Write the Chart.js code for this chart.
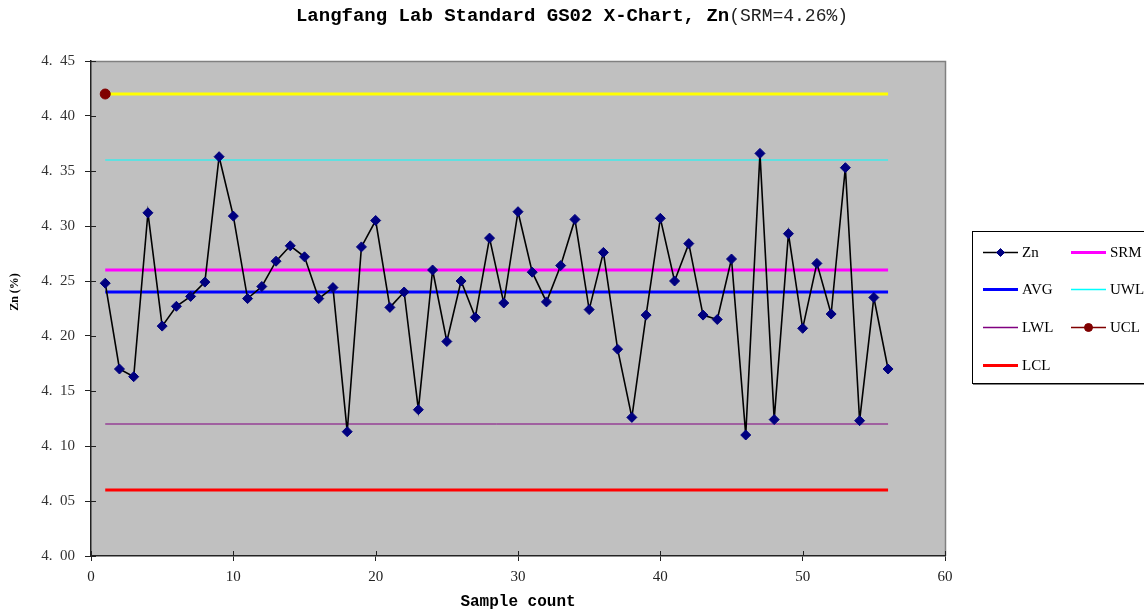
<!DOCTYPE html>
<html lang="en">
<head>
<meta charset="UTF-8">
<title>Langfang Lab Standard GS02 X-Chart, Zn</title>
<script src="https://cdn.jsdelivr.net/npm/chart.js"></script>
<style>
  body { margin: 0; background: #fff; }
  #wrap { width: 1144px; height: 613px; }
</style>
</head>
<body>
<div id="wrap"><canvas id="xChart" width="1144" height="613"></canvas></div>
<script>
// sample numbers and Zn results (%)
const samples = [1, 2, 3, 4, 5, 6, 7, 8, 9, 10, 11, 12, 13, 14, 15, 16, 17, 18, 19, 20,
  21, 22, 23, 24, 25, 26, 27, 28, 29, 30, 31, 32, 33, 34, 35, 36, 37, 38, 39, 40,
  41, 42, 43, 44, 45, 46, 47, 48, 49, 50, 51, 52, 53, 54, 55, 56];
const zn = [4.248, 4.170, 4.163, 4.312, 4.209, 4.227, 4.236, 4.249, 4.363, 4.309,
  4.234, 4.245, 4.268, 4.282, 4.272, 4.234, 4.244, 4.113, 4.281, 4.305,
  4.226, 4.240, 4.133, 4.260, 4.195, 4.250, 4.217, 4.289, 4.230, 4.313,
  4.258, 4.231, 4.264, 4.306, 4.224, 4.276, 4.188, 4.126, 4.219, 4.307,
  4.250, 4.284, 4.219, 4.215, 4.270, 4.110, 4.366, 4.124, 4.293, 4.207,
  4.266, 4.220, 4.353, 4.123, 4.235, 4.170];

// control values
const srm = 4.26;
const avg = 4.24;
const uwl = 4.36;
const lwl = 4.12;
const ucl = 4.42;
const lcl = 4.06;

// limit lines run from first to last sample
const firstSample = samples[0];
const lastSample = samples[samples.length - 1];

function hline(v) {
  return [{ x: firstSample, y: v }, { x: lastSample, y: v }];
}

const znPoints = samples.map((s, i) => ({ x: s, y: zn[i] }));

function limitSet(label, v, color, width, order) {
  return {
    label: label,
    data: hline(v),
    borderColor: color,
    backgroundColor: color,
    borderWidth: width,
    pointRadius: 0,
    order: order
  };
}

const datasets = [
  {
    label: 'Zn',
    data: znPoints,
    borderColor: '#000000',
    backgroundColor: '#000080',
    borderWidth: 1.6,
    pointStyle: 'rectRot',
    pointRadius: 5,
    pointBackgroundColor: '#000080',
    pointBorderColor: '#000080',
    pointBorderWidth: 1,
    order: 0
  },
  limitSet('SRM', srm, '#FF00FF', 3, 2),
  limitSet('AVG', avg, '#0000FF', 3, 2),
  limitSet('UWL', uwl, '#00FFFF', 1, 2),
  limitSet('LWL', lwl, '#800080', 1, 2),
  {
    label: 'UCL',
    data: [{ x: firstSample, y: ucl }],
    borderColor: '#800000',
    backgroundColor: '#800000',
    borderWidth: 1,
    pointStyle: 'circle',
    pointRadius: 5,
    pointBackgroundColor: '#800000',
    pointBorderColor: '#800000',
    order: 1
  },
  limitSet('LCL', lcl, '#FF0000', 3, 2),
  Object.assign(limitSet('UCL line', ucl, '#FFFF00', 3, 3), { inLegend: false })
];

// plot background, frame, titles and the boxed two-column legend
const decor = {
  id: 'decor',
  beforeDraw(chart) {
    const { ctx, chartArea: a } = chart;
    ctx.save();
    ctx.fillStyle = '#C0C0C0';
    ctx.fillRect(a.left, a.top, a.right - a.left, a.bottom - a.top);
    ctx.strokeStyle = '#808080';
    ctx.lineWidth = 1.5;
    ctx.beginPath();
    ctx.moveTo(a.left, a.top + 0.5);
    ctx.lineTo(a.right + 0.5, a.top + 0.5);
    ctx.lineTo(a.right + 0.5, a.bottom);
    ctx.stroke();
    ctx.restore();
  },
  afterDraw(chart) {
    const { ctx, chartArea: a, scales } = chart;
    ctx.save();

    // inner halves of the crossing tick marks
    ctx.strokeStyle = '#222';
    ctx.lineWidth = 1;
    ctx.beginPath();
    scales.y.ticks.forEach(t => {
      const py = Math.round(scales.y.getPixelForValue(t.value)) + 0.5;
      ctx.moveTo(a.left, py);
      ctx.lineTo(a.left + 5, py);
    });
    scales.x.ticks.forEach(t => {
      const px = Math.round(scales.x.getPixelForValue(t.value)) + 0.5;
      ctx.moveTo(px, a.bottom);
      ctx.lineTo(px, a.bottom - 5);
    });
    ctx.stroke();

    // chart title: bold part plus normal part
    const t1 = 'Langfang Lab Standard GS02 X-Chart, Zn';
    const t2 = '(SRM=4.26%)';
    const f1 = 'bold 19px "Liberation Mono"';
    const f2 = '18px "Liberation Mono"';
    ctx.fillStyle = '#000';
    ctx.textBaseline = 'middle';
    ctx.textAlign = 'left';
    ctx.font = f1;
    const w1 = ctx.measureText(t1).width;
    ctx.font = f2;
    const w2 = ctx.measureText(t2).width;
    const tx = 572 - (w1 + w2) / 2;
    ctx.font = f1;
    ctx.fillText(t1, tx, 16);
    ctx.font = f2;
    ctx.fillStyle = '#222';
    ctx.fillText(t2, tx + w1, 16);

    // axis titles
    ctx.fillStyle = '#000';
    ctx.textAlign = 'center';
    ctx.font = 'bold 16px "Liberation Mono"';
    ctx.fillText('Sample count', 518, 602);
    ctx.save();
    ctx.translate(15, 292);
    ctx.rotate(-Math.PI / 2);
    ctx.font = 'bold 12px "Liberation Serif"';
    ctx.fillText('Zn (%)', 0, 0);
    ctx.restore();

    // legend box
    ctx.fillStyle = '#FFFFFF';
    ctx.fillRect(972.5, 231.5, 180, 152);
    ctx.strokeStyle = '#000';
    ctx.lineWidth = 1;
    ctx.strokeRect(972.5, 231.5, 180, 152);
    ctx.strokeStyle = '#808080';
    ctx.beginPath();
    ctx.moveTo(973, 384.5);
    ctx.lineTo(1144, 384.5);
    ctx.stroke();

    const cols = [983, 1071];
    const rows = [252, 289, 327, 365];
    const items = chart.data.datasets.filter(d => d.inLegend !== false);
    ctx.font = '15px "Liberation Serif"';
    ctx.textAlign = 'left';
    ctx.textBaseline = 'middle';
    items.forEach((d, i) => {
      const lx = cols[i % 2];
      const ly = rows[Math.floor(i / 2)];
      ctx.strokeStyle = d.borderColor;
      ctx.lineWidth = Math.max(d.borderWidth, 1.5);
      ctx.beginPath();
      ctx.moveTo(lx, ly + 0.5);
      ctx.lineTo(lx + 35, ly + 0.5);
      ctx.stroke();
      if (d.pointRadius > 0) {
        ctx.fillStyle = d.pointBackgroundColor;
        ctx.strokeStyle = d.pointBorderColor;
        ctx.lineWidth = 1;
        Chart.helpers.drawPoint(ctx, { pointStyle: d.pointStyle, radius: 4, borderWidth: 1 }, lx + 17.5, ly + 0.5);
      }
      ctx.fillStyle = '#000';
      ctx.fillText(d.label, lx + 39, ly + 1);
    });

    ctx.restore();
  }
};

new Chart(document.getElementById('xChart'), {
  type: 'line',
  data: { datasets: datasets },
  options: {
    responsive: false,
    animation: false,
    layout: { padding: { top: 61, right: 199, left: 0, bottom: 0 } },
    plugins: {
      legend: { display: false },
      title: { display: false },
      tooltip: { enabled: false }
    },
    elements: { line: { tension: 0 } },
    scales: {
      x: {
        type: 'linear',
        min: 0,
        max: 60,
        ticks: {
          stepSize: 10,
          padding: 7,
          color: '#222',
          font: { family: 'Liberation Serif', size: 15 }
        },
        grid: { drawOnChartArea: false, tickLength: 5, tickColor: '#222', tickWidth: 1 },
        border: { color: '#222', width: 1.5 },
        afterFit(scale) { scale.height = 57; }
      },
      y: {
        min: 4.0,
        max: 4.45,
        ticks: {
          stepSize: 0.05,
          padding: 10,
          color: '#333',
          font: { family: 'Liberation Serif', size: 15 },
          callback: v => v.toFixed(2).replace('.', '.  ')
        },
        grid: { drawOnChartArea: false, tickLength: 6, tickColor: '#222', tickWidth: 1 },
        border: { color: '#222', width: 1.5 },
        afterFit(scale) { scale.width = 91; }
      }
    }
  },
  plugins: [decor]
});
</script>
</body>
</html>
